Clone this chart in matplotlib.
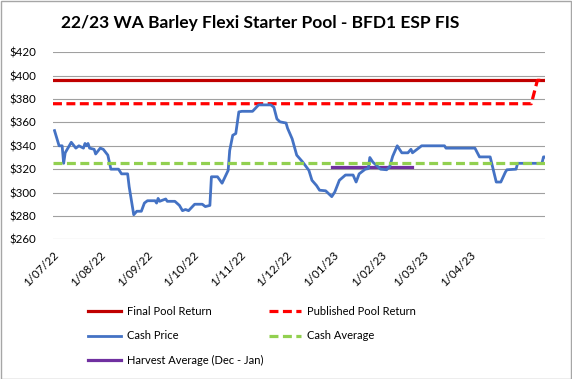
import matplotlib
matplotlib.use("Agg")
import matplotlib.pyplot as plt
from matplotlib.patches import Rectangle
import pandas as pd

plt.rcParams['font.family'] = ['Lato', 'DejaVu Sans']

title = "22/23 WA Barley Flexi Starter Pool - BFD1 ESP FIS"

cash_dates = ["2022-07-02", "2022-07-05", "2022-07-07", "2022-07-08", "2022-07-09", "2022-07-13",
              "2022-07-16", "2022-07-18", "2022-07-21", "2022-07-22", "2022-07-23", "2022-07-24",
              "2022-07-25", "2022-07-28", "2022-07-29", "2022-08-01", "2022-08-03", "2022-08-06",
              "2022-08-08", "2022-08-13", "2022-08-15", "2022-08-19", "2022-08-20", "2022-08-23",
              "2022-08-25", "2022-08-28", "2022-08-30", "2022-09-01", "2022-09-06", "2022-09-07",
              "2022-09-08", "2022-09-09", "2022-09-13", "2022-09-14", "2022-09-19", "2022-09-22",
              "2022-09-24", "2022-09-26", "2022-09-28", "2022-10-02", "2022-10-07", "2022-10-09",
              "2022-10-12", "2022-10-13", "2022-10-17", "2022-10-20", "2022-10-24", "2022-10-25",
              "2022-10-27", "2022-10-29", "2022-10-31", "2022-11-02", "2022-11-09", "2022-11-13",
              "2022-11-21", "2022-11-23", "2022-11-25", "2022-11-27", "2022-12-01", "2022-12-02",
              "2022-12-05", "2022-12-08", "2022-12-12", "2022-12-16", "2022-12-18", "2022-12-21",
              "2022-12-23", "2022-12-27", "2022-12-31", "2023-01-02", "2023-01-05", "2023-01-09",
              "2023-01-14", "2023-01-16", "2023-01-18", "2023-01-22", "2023-01-24", "2023-01-25",
              "2023-01-27", "2023-01-30", "2023-02-01", "2023-02-05", "2023-02-07", "2023-02-09",
              "2023-02-12", "2023-02-15", "2023-02-19", "2023-02-21", "2023-02-22", "2023-02-28",
              "2023-03-15", "2023-03-16", "2023-04-04", "2023-04-07", "2023-04-14", "2023-04-18",
              "2023-04-21", "2023-04-24", "2023-04-25", "2023-05-01", "2023-05-02", "2023-05-18",
              "2023-05-19", "2023-05-20"]
cash_price = [353, 340, 340, 325, 334, 343,
              338, 340, 338, 342, 340, 342,
              338, 337, 333, 338, 337, 332,
              320, 320, 316, 316, 305, 281,
              284, 284, 291, 293, 293, 291,
              295, 292.5, 294.5, 292.5, 292.5, 289,
              284.5, 285.5, 284.5, 290, 290, 288,
              289, 313.5, 313.5, 308, 319, 336,
              349, 350.5, 369, 369.5, 369.5, 375,
              375, 373, 363, 360.5, 359.5, 355,
              346, 332, 326, 319, 310.5, 306,
              302, 301.5, 296.5, 300.5, 310.5, 315,
              315, 309, 316, 320, 320.5, 330,
              326, 322.5, 320, 319.5, 322, 331,
              340, 334, 334, 337, 334, 340,
              340, 338, 338, 330.5, 330.5, 309,
              309, 317.5, 319.5, 320, 325, 325,
              330.5, 330.5]

start_date = "2022-07-01"
end_date = "2023-05-20"

final_pool_return = 396
published_dates = ["2022-07-01", "2023-05-11", "2023-05-15", "2023-05-20"]
published_values = [376, 376, 396, 396]
cash_average = 325
harvest_dates = ["2022-12-31", "2023-02-22"]
harvest_average = 321.5

W, H = 572, 379
fig = plt.figure(figsize=(W / 100, H / 100), dpi=100)
ax = fig.add_axes([53 / W, 1 - 239.3 / H, (545 - 53) / W, (239.3 - 52.3) / H])

x0 = pd.Timestamp(start_date)
x1 = pd.Timestamp(end_date)

ax.plot([x0, x1], [final_pool_return] * 2, color="#C00000", lw=2.3, label="Final Pool Return", zorder=3)
ax.plot(pd.to_datetime(published_dates), published_values, color="#FF0000", lw=2.3,
        dashes=(2.8, 1.4), label="Published Pool Return", zorder=3)
ax.plot(pd.to_datetime(cash_dates), cash_price, color="#4472C4", lw=2.0, label="Cash Price",
        zorder=4, solid_joinstyle="round")
ax.plot([x0, x1], [cash_average] * 2, color="#92D050", lw=2.3, dashes=(2.8, 1.4),
        label="Cash Average", zorder=5)
ax.plot(pd.to_datetime(harvest_dates), [harvest_average] * 2, color="#7030A0", lw=2.3,
        label="Harvest Average (Dec - Jan)", zorder=3)

ax.set_xlim(x0, x1)
ax.set_ylim(260, 420)
ax.set_yticks(range(260, 421, 20))
ax.yaxis.set_major_formatter(matplotlib.ticker.FuncFormatter(lambda v, p: f"${v:.0f}"))
ax.grid(axis="y", color="#A0A0A0", lw=0.8)
ax.set_axisbelow(True)

month_ticks = pd.date_range("2022-07-01", "2023-04-01", freq="MS")
ax.set_xticks(month_ticks)
ax.set_xticklabels([f"{d.day}/{d.month:02d}/{d.year % 100:02d}" for d in month_ticks],
                   rotation=45, ha="right", rotation_mode="anchor")
for s in ax.spines.values():
    s.set_visible(False)
ax.tick_params(length=0, labelsize=8.3, colors="black")
ax.tick_params(axis="y", pad=12)
ax.tick_params(axis="x", pad=7)

fig.text(260.5 / W, 1 - 23 / H, title, ha="center", va="center", fontsize=12.5, fontweight="bold")

h, l = ax.get_legend_handles_labels()
order = [0, 2, 4, 1, 3]
fig.legend([h[i] for i in order], [l[i] for i in order], ncol=2,
           loc="center left", bbox_to_anchor=(84 / W, 1 - 336 / H), frameon=False,
           borderaxespad=0, fontsize=8.0, handlelength=2.9, columnspacing=0.5,
           labelspacing=1.2, handletextpad=0.55)

fig.add_artist(Rectangle((0.5 / W, 0.5 / H), 1 - 1.5 / W, 1 - 1.5 / H, transform=fig.transFigure,
                         fill=False, edgecolor="#A6A6A6", lw=1))

fig.savefig("out.png", dpi=100, facecolor="white")
